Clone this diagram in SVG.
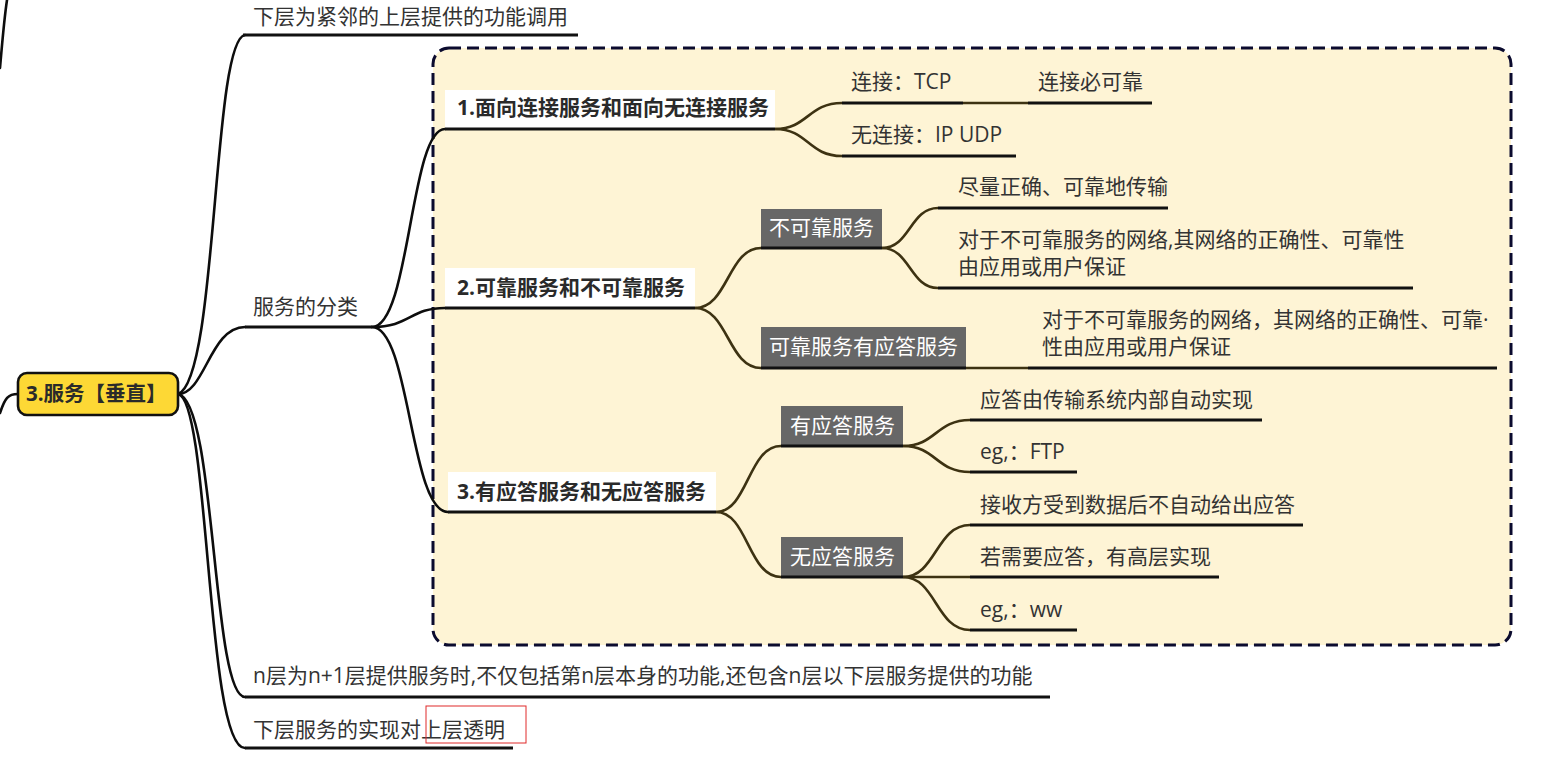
<svg xmlns="http://www.w3.org/2000/svg" width="1547" height="757" viewBox="0 0 1547 757">
<style>
text{font-family:"Open Sans","Noto Sans CJK SC",sans-serif;font-size:21px;fill:#333}
.b{font-weight:bold;fill:#2a2a2a}
.w{fill:#fff}
.oc{fill:none;stroke:#0d0d0d;stroke-width:2.6;stroke-linecap:round}
.ic{fill:none;stroke:#3d3212;stroke-width:2.6}
.ul{stroke:#111;stroke-width:3}
.gb{fill:#676767}
.lb{fill:#fff}
</style>
<rect x="0" y="0" width="1547" height="757" fill="#fff"/>
<rect id="frame" x="433" y="48" width="1078" height="597" rx="16" fill="#fef4d5" stroke="#0b0b2e" stroke-width="3" stroke-dasharray="12 6"/>
<g id="connectors">
<path class="oc" d="M7,0 C4,20 2,45 0,68"/>
<path class="oc" d="M0,413 C5,398 8,394 18,394"/>
<path class="oc" d="M178,394 C218,380 212,40 245,35"/>
<path class="oc" d="M178,394 C205,394 210,327 245,327"/>
<path class="oc" d="M178,394 C216,400 212,697 245,697" stroke-width="3.2"/>
<path class="oc" d="M178,394 C210,400 206,748 245,748" stroke-width="3.2"/>
<path class="oc" d="M372,327 C410,327 410,129 445,129"/>
<path class="oc" d="M372,327 C410,327 410,308 445,308"/>
<path class="oc" d="M372,327 C410,327 410,512 448,512"/>
<path class="ic" d="M775,129 C808,129 808,103 842,103"/>
<path class="ic" d="M775,129 C808,129 808,156 842,156"/>
<path class="ic" d="M963,103 L1028,103"/>
<path class="ic" d="M695,308 C728,308 728,248 761,248"/>
<path class="ic" d="M695,308 C728,308 728,368 761,368"/>
<path class="ic" d="M882,248 C910,248 910,208 938,208"/>
<path class="ic" d="M882,248 C910,248 910,288 938,288"/>
<path class="ic" d="M966,368 L1028,368"/>
<path class="ic" d="M716,512 C748,512 748,446 781,446"/>
<path class="ic" d="M716,512 C748,512 748,577 781,577"/>
<path class="ic" d="M903,446 C936,446 936,420 970,420"/>
<path class="ic" d="M903,446 C936,446 936,472 970,472"/>
<path class="ic" d="M903,577 C936,577 936,525 970,525"/>
<path class="ic" d="M903,577 L970,577"/>
<path class="ic" d="M903,577 C936,577 936,630 970,630"/>
</g>
<g id="root">
<rect x="18" y="373" width="160" height="42" rx="9" fill="#fdd835" stroke="#111" stroke-width="2.6"/>
<text class="b" x="26" y="401" style="font-size:20.5px">3.服务【垂直】</text>
</g>
<g id="n-call">
<text x="253" y="24">下层为紧邻的上层提供的功能调用</text>
<line class="ul" x1="243" y1="35" x2="578" y2="35"/>
</g>
<g id="n-class">
<text x="253" y="314">服务的分类</text>
<line class="ul" x1="245" y1="327" x2="372" y2="327"/>
</g>
<g id="n-nlayer">
<text x="253" y="683">n层为n+1层提供服务时,不仅包括第n层本身的功能,还包含n层以下层服务提供的功能</text>
<line class="ul" x1="245" y1="697" x2="1050" y2="697"/>
</g>
<g id="n-transparent">
<text x="253" y="737">下层服务的实现对上层透明</text>
<line class="ul" x1="245" y1="748" x2="513" y2="748"/>
<rect x="426" y="706" width="100" height="37" fill="none" stroke="#e02a2a" stroke-width="1"/>
</g>
<g id="n1">
<rect class="lb" x="445" y="90" width="330" height="38"/>
<text class="b" x="457" y="115">1.面向连接服务和面向无连接服务</text>
<line class="ul" x1="445" y1="129" x2="775" y2="129"/>
</g>
<g id="n1a">
<text x="851" y="89">连接：TCP</text>
<line class="ul" x1="842" y1="103" x2="963" y2="103"/>
</g>
<g id="n1a1">
<text x="1038" y="89">连接必可靠</text>
<line class="ul" x1="1028" y1="103" x2="1152" y2="103"/>
</g>
<g id="n1b">
<text x="851" y="142">无连接：IP UDP</text>
<line class="ul" x1="842" y1="156" x2="1016" y2="156"/>
</g>
<g id="n2">
<rect class="lb" x="445" y="268" width="250" height="39"/>
<text class="b" x="457" y="295">2.可靠服务和不可靠服务</text>
<line class="ul" x1="445" y1="308" x2="695" y2="308"/>
</g>
<g id="n2a">
<rect class="gb" x="761" y="209" width="121" height="38"/>
<text class="w" x="769" y="235">不可靠服务</text>
<line class="ul" x1="761" y1="248" x2="882" y2="248"/>
</g>
<g id="n2a1">
<text x="958" y="194">尽量正确、可靠地传输</text>
<line class="ul" x1="938" y1="208" x2="1168" y2="208"/>
</g>
<g id="n2a2">
<text x="958" y="247">对于不可靠服务的网络,其网络的正确性、可靠性</text>
<text x="958" y="274">由应用或用户保证</text>
<line class="ul" x1="938" y1="288" x2="1413" y2="288"/>
</g>
<g id="n2b">
<rect class="gb" x="761" y="327" width="205" height="40"/>
<text class="w" x="769" y="354">可靠服务有应答服务</text>
<line class="ul" x1="761" y1="368" x2="966" y2="368"/>
</g>
<g id="n2b1">
<text x="1042" y="327">对于不可靠服务的网络，其网络的正确性、可靠·</text>
<text x="1042" y="354">性由应用或用户保证</text>
<line class="ul" x1="1028" y1="368" x2="1497" y2="368"/>
</g>
<g id="n3">
<rect class="lb" x="448" y="472" width="268" height="39"/>
<text class="b" x="457" y="499">3.有应答服务和无应答服务</text>
<line class="ul" x1="448" y1="512" x2="716" y2="512"/>
</g>
<g id="n3a">
<rect class="gb" x="781" y="406" width="122" height="40"/>
<text class="w" x="790" y="433">有应答服务</text>
<line class="ul" x1="781" y1="446" x2="903" y2="446"/>
</g>
<g id="n3a1">
<text x="980" y="407">应答由传输系统内部自动实现</text>
<line class="ul" x1="970" y1="420" x2="1262" y2="420"/>
</g>
<g id="n3a2">
<text x="980" y="459">eg,：FTP</text>
<line class="ul" x1="970" y1="472" x2="1077" y2="472"/>
</g>
<g id="n3b">
<rect class="gb" x="781" y="537" width="122" height="40"/>
<text class="w" x="790" y="564">无应答服务</text>
<line class="ul" x1="781" y1="577" x2="903" y2="577"/>
</g>
<g id="n3b1">
<text x="980" y="512">接收方受到数据后不自动给出应答</text>
<line class="ul" x1="970" y1="525" x2="1303" y2="525"/>
</g>
<g id="n3b2">
<text x="980" y="564">若需要应答，有高层实现</text>
<line class="ul" x1="970" y1="577" x2="1219" y2="577"/>
</g>
<g id="n3b3">
<text x="980" y="617">eg,：ww</text>
<line class="ul" x1="970" y1="630" x2="1077" y2="630"/>
</g>
</svg>
